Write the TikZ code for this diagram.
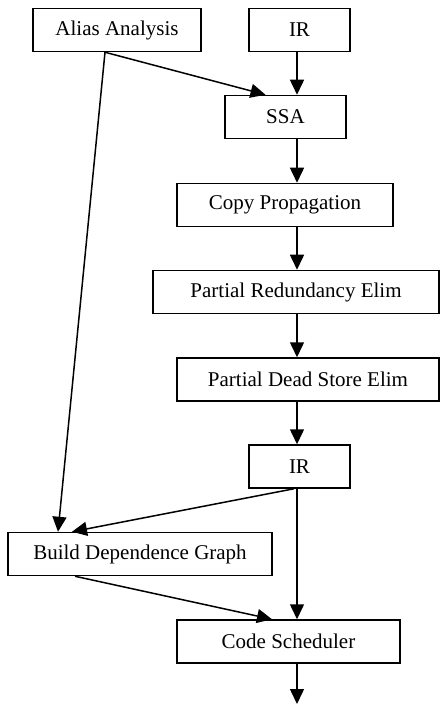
\documentclass[tikz,border=0pt]{standalone}
\usepackage{fontspec}
\setmainfont{Liberation Serif}
\usetikzlibrary{arrows.meta}
\begin{document}
\begin{tikzpicture}[x=0.5pt,y=-0.5pt,
  box/.style={draw, line width=0.75pt, minimum height=21.5pt, inner sep=0pt, font=\fontsize{10.5}{12}\selectfont},
  flow/.style={line width=0.75pt, -{Triangle[length=7.5pt,width=7pt]}}]
\useasboundingbox (0,0) rectangle (440,705);
% passes
\node[box, minimum width=84pt] (alias) at (117,30) {Alias Analysis};
\node[box, minimum width=50.5pt] (irtop) at (299.5,30) {IR};
\node[box, minimum width=60.5pt] (ssa) at (285.5,117) {SSA};
\node[box, minimum width=108pt] (copy) at (285,205) {Copy Propagation};
\node[box, minimum width=143pt] (pre) at (296,292) {Partial Redundancy Elim};
\node[box, minimum width=131pt] (pdse) at (308,379.5) {Partial Dead Store Elim};
\node[box, minimum width=50.5pt] (irmid) at (299.5,466.5) {IR};
\node[box, minimum width=132pt] (ddg) at (140,554) {Build Dependence Graph};
\node[box, minimum width=111.5pt] (sched) at (288.5,641.5) {Code Scheduler};
\coordinate (spine) at (297,0);
\coordinate (out) at (297,704);
% edges
\draw[flow] (irtop.south -| spine) -- (ssa.north -| spine);
\draw[flow] ([xshift=-6pt]alias.south) -- ([xshift=-10pt]ssa.north);
\draw[flow] (ssa.south -| spine) -- (copy.north -| spine);
\draw[flow] (copy.south -| spine) -- (pre.north -| spine);
\draw[flow] (pre.south -| spine) -- (pdse.north -| spine);
\draw[flow] (pdse.south -| spine) -- (irmid.north -| spine);
\draw[flow] ([xshift=-6pt]alias.south) -- ([xshift=-41pt]ddg.north);
\draw[flow] ([xshift=-2.75pt]irmid.south) -- ([xshift=-34pt]ddg.north);
\draw[flow] (irmid.south -| spine) -- (sched.north -| spine);
\draw[flow] ([xshift=-32.5pt]ddg.south) -- ([xshift=-8.25pt]sched.north);
\draw[flow] (sched.south -| spine) -- (out);
\end{tikzpicture}
\end{document}
